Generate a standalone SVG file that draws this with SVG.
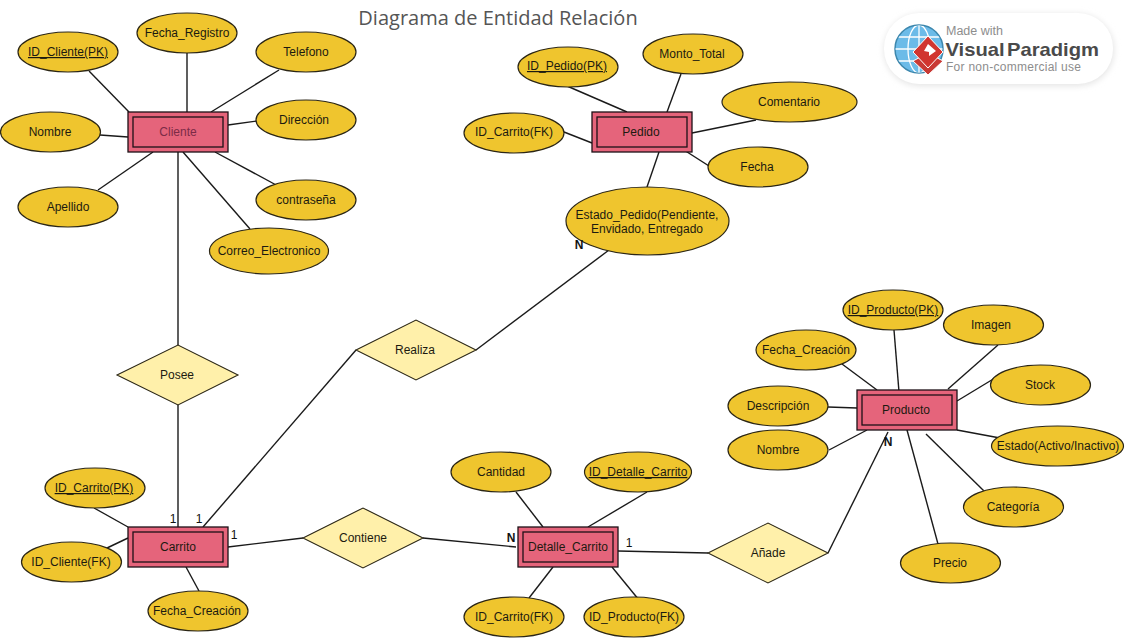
<svg xmlns="http://www.w3.org/2000/svg" width="1125" height="638" viewBox="0 0 1125 638">
<style>
text{font-family:"Liberation Sans",Arial,sans-serif;font-size:12px;fill:#1c1a10;text-anchor:middle}
.a{fill:#efc52e;stroke:#2b2616;stroke-width:1.2}
.e{fill:#e5647b;stroke:#1d1016;stroke-width:1.3}
.i{fill:none;stroke:#1d1016;stroke-width:1.3}
.r{fill:#fff0aa;stroke:#2b2616;stroke-width:1.1}
.c line,.c polyline{fill:none;stroke:#1a1a1a;stroke-width:1.4}
.k{font-weight:bold;font-size:12px;fill:#111}
.card{font-size:12px;fill:#111}
.u{text-decoration:underline}
</style>
<defs><filter id="soft" x="-10%" y="-25%" width="120%" height="150%"><feGaussianBlur stdDeviation="3"/></filter>
<clipPath id="gl"><circle cx="919" cy="49" r="23.5"/></clipPath></defs>
<rect width="1125" height="638" fill="#fff"/>
<text id="title" x="498" y="25" style="font-family:'Open Sans','Noto Sans',sans-serif;font-size:20px;fill:#555">Diagrama de Entidad Relación</text>
<g id="watermark">
<rect x="884" y="14" width="230" height="72" rx="36" fill="#e4e4e4" filter="url(#soft)"/>
<rect x="884" y="13" width="229" height="71" rx="35" fill="#fff"/>
<circle cx="919" cy="49" r="24" fill="#6cbbe8" stroke="#3d87ad" stroke-width="1.5"/>
<g clip-path="url(#gl)" fill="none" stroke="#fff" stroke-width="1.3"><ellipse cx="919" cy="49" rx="11" ry="24"/><line x1="919" y1="25" x2="919" y2="73"/><line x1="895" y1="49" x2="943" y2="49"/><line x1="897" y1="37" x2="941" y2="37"/><line x1="897" y1="61" x2="941" y2="61"/></g>
<polygon points="928,53 943,61 928,75 913,61" fill="#c93a35" stroke="#fff" stroke-width="1"/>
<polygon points="928,36 943,52 928,68 913,52" fill="#d1352f" stroke="#fff" stroke-width="1"/>
<polygon points="928,44 936,51 929,56 929,52 924,51" fill="#fff"/>
<text x="946" y="35" style="text-anchor:start;font-size:12.5px;fill:#8d8d8d" textLength="57">Made with</text>
<text x="945.500" y="55.500" style="text-anchor:start;font-size:19px;font-weight:bold;fill:#4a4a4a;word-spacing:-3px" textLength="153.500" lengthAdjust="spacingAndGlyphs">Visual Paradigm</text>
<text x="946" y="70.500" style="text-anchor:start;font-size:12px;fill:#8d8d8d" textLength="135">For non-commercial use</text>
</g>
<g id="connectors" class="c">
<line x1="89" y1="71" x2="129" y2="112"/><line x1="187" y1="53" x2="187" y2="112"/><line x1="279" y1="70" x2="211" y2="112"/><line x1="257" y1="121" x2="228" y2="125"/><line x1="100" y1="135" x2="128" y2="137"/><line x1="98" y1="190" x2="153" y2="152"/><line x1="278" y1="186" x2="215" y2="152"/><line x1="250" y1="229" x2="183" y2="152"/>
<line x1="178" y1="152" x2="178" y2="345"/><line x1="178" y1="405" x2="178" y2="527"/>
<line x1="203" y1="527" x2="356" y2="350"/><line x1="476" y1="350" x2="609" y2="250"/>
<line x1="228" y1="547" x2="303" y2="538"/><line x1="423" y1="538" x2="516" y2="547"/>
<line x1="618" y1="551" x2="708" y2="553"/><polyline points="828,553 888,432"/>
<line x1="94" y1="508" x2="128" y2="527"/><line x1="107" y1="548" x2="128" y2="538"/><line x1="186" y1="567" x2="199" y2="591"/>
<line x1="516" y1="492" x2="543" y2="527"/><line x1="647" y1="492" x2="588" y2="527"/><line x1="529" y1="598" x2="553" y2="567"/><line x1="639" y1="600" x2="612" y2="567"/>
<line x1="567" y1="86" x2="627" y2="112"/><line x1="681" y1="74" x2="667" y2="112"/><line x1="756" y1="120" x2="692" y2="133"/><line x1="709" y1="166" x2="684" y2="150"/><line x1="564" y1="132" x2="592" y2="143"/><line x1="659" y1="152" x2="647" y2="187"/>
<line x1="894" y1="330" x2="899" y2="392"/><line x1="998" y1="345" x2="948" y2="389"/><line x1="842" y1="364" x2="877" y2="390"/><line x1="995" y1="378" x2="957" y2="401"/><line x1="828" y1="407" x2="857" y2="408"/><line x1="829" y1="450" x2="867" y2="430"/><line x1="957" y1="430" x2="1000" y2="438"/><line x1="984" y1="491" x2="926" y2="434"/><line x1="938" y1="544" x2="907" y2="430"/>
</g>
<g id="Cliente"><rect class="e" x="128" y="112" width="100" height="40"/><rect class="i" x="133" y="117" width="90" height="30"/><text x="178" y="136" style="fill:#7c2b47">Cliente</text></g>
<g id="Carrito"><rect class="e" x="128" y="527" width="100" height="40"/><rect class="i" x="133" y="532" width="90" height="30"/><text x="178" y="551">Carrito</text></g>
<g id="Detalle_Carrito"><rect class="e" x="518" y="527" width="100" height="40"/><rect class="i" x="523" y="532" width="90" height="30"/><text x="568" y="551">Detalle_Carrito</text></g>
<g id="Pedido"><rect class="e" x="592" y="112" width="100" height="40"/><rect class="i" x="597" y="117" width="90" height="30"/><text x="641" y="136">Pedido</text></g>
<g id="Producto"><rect class="e" x="857" y="390" width="100" height="40"/><rect class="i" x="862" y="395" width="90" height="30"/><text x="906" y="414">Producto</text></g>
<g id="Posee"><polygon class="r" points="117,375 178,345 238,375 178,405"/><text x="177" y="379">Posee</text></g>
<g id="Realiza"><polygon class="r" points="356,350 416,320 476,350 416,380"/><text x="415" y="354">Realiza</text></g>
<g id="Contiene"><polygon class="r" points="303,538 363,508 423,538 363,568"/><text x="363" y="542">Contiene</text></g>
<g id="Anade"><polygon class="r" points="708,553 768,523 828,553 768,583"/><text x="768" y="557">Añade</text></g>
<g id="attr-id-cliente"><ellipse class="a" cx="68" cy="52" rx="50" ry="20"/><text class="u" x="68" y="56">ID_Cliente(PK)</text></g>
<g id="attr-fecha-registro"><ellipse class="a" cx="187" cy="33" rx="50" ry="20"/><text x="187" y="37">Fecha_Registro</text></g>
<g id="attr-telefono"><ellipse class="a" cx="306" cy="52" rx="50" ry="20"/><text x="306" y="56">Telefono</text></g>
<g id="attr-direccion"><ellipse class="a" cx="306" cy="120" rx="50" ry="20"/><text x="304" y="124">Dirección</text></g>
<g id="attr-nombre"><ellipse class="a" cx="50.500" cy="132" rx="50" ry="20"/><text x="50" y="136">Nombre</text></g>
<g id="attr-apellido"><ellipse class="a" cx="68" cy="207" rx="50" ry="20"/><text x="68" y="211">Apellido</text></g>
<g id="attr-contrasena"><ellipse class="a" cx="306" cy="200" rx="50" ry="20"/><text x="306" y="204">contraseña</text></g>
<g id="attr-correo"><ellipse class="a" cx="269" cy="251" rx="59.500" ry="23"/><text x="269" y="255">Correo_Electronico</text></g>
<g id="attr-id-carrito-pk"><ellipse class="a" cx="95" cy="488" rx="50" ry="20"/><text class="u" x="94" y="492">ID_Carrito(PK)</text></g>
<g id="attr-id-cliente-fk"><ellipse class="a" cx="71.500" cy="562" rx="50" ry="20"/><text x="71" y="566">ID_Cliente(FK)</text></g>
<g id="attr-fecha-creacion"><ellipse class="a" cx="198" cy="611" rx="50" ry="20"/><text x="197" y="615">Fecha_Creación</text></g>
<g id="attr-cantidad"><ellipse class="a" cx="501" cy="472" rx="50" ry="20"/><text x="501" y="476">Cantidad</text></g>
<g id="attr-id-detalle"><ellipse class="a" cx="638" cy="472" rx="53.500" ry="20"/><text class="u" x="638" y="476">ID_Detalle_Carrito</text></g>
<g id="attr-id-carrito-fk2"><ellipse class="a" cx="514" cy="617" rx="50" ry="20"/><text x="514" y="621">ID_Carrito(FK)</text></g>
<g id="attr-id-producto-fk"><ellipse class="a" cx="634" cy="617" rx="50" ry="20"/><text x="634" y="621">ID_Producto(FK)</text></g>
<g id="attr-id-pedido"><ellipse class="a" cx="568" cy="67" rx="50" ry="20"/><text class="u" x="567" y="70">ID_Pedido(PK)</text></g>
<g id="attr-monto"><ellipse class="a" cx="693" cy="54" rx="50" ry="20"/><text x="692" y="58">Monto_Total</text></g>
<g id="attr-comentario"><ellipse class="a" cx="789.500" cy="102" rx="67.500" ry="20"/><text x="789" y="106">Comentario</text></g>
<g id="attr-fecha"><ellipse class="a" cx="758" cy="167" rx="50" ry="20"/><text x="757" y="171">Fecha</text></g>
<g id="attr-id-carrito-fk"><ellipse class="a" cx="514" cy="133" rx="50" ry="20"/><text x="514" y="136">ID_Carrito(FK)</text></g>
<g id="attr-estado-pedido"><ellipse class="a" cx="647.500" cy="221" rx="81.500" ry="34"/><text x="647" y="219">Estado_Pedido(Pendiente,</text><text x="647" y="233">Envidado, Entregado</text></g>
<g id="attr-id-producto"><ellipse class="a" cx="893" cy="310" rx="50" ry="20"/><text class="u" x="893" y="314">ID_Producto(PK)</text></g>
<g id="attr-imagen"><ellipse class="a" cx="993.500" cy="325" rx="50" ry="20"/><text x="991" y="329">Imagen</text></g>
<g id="attr-fecha-creacion-p"><ellipse class="a" cx="806" cy="350" rx="50" ry="20"/><text x="806" y="354">Fecha_Creación</text></g>
<g id="attr-stock"><ellipse class="a" cx="1040.500" cy="385" rx="50" ry="20"/><text x="1040" y="389">Stock</text></g>
<g id="attr-descripcion"><ellipse class="a" cx="778" cy="406" rx="50" ry="20"/><text x="778" y="410">Descripción</text></g>
<g id="attr-nombre-p"><ellipse class="a" cx="778" cy="450" rx="50" ry="20"/><text x="778" y="454">Nombre</text></g>
<g id="attr-estado"><ellipse class="a" cx="1057.500" cy="446" rx="66" ry="20"/><text x="1058" y="450">Estado(Activo/Inactivo)</text></g>
<g id="attr-categoria"><ellipse class="a" cx="1013.500" cy="507" rx="50" ry="20"/><text x="1013" y="511">Categoría</text></g>
<g id="attr-precio"><ellipse class="a" cx="950.500" cy="563" rx="50" ry="20"/><text x="950" y="567">Precio</text></g>
<g id="cardinalities">
<text class="k" x="579" y="249">N</text><text class="k" x="511" y="542">N</text><text class="k" x="888" y="446">N</text>
<text class="card" x="173" y="523">1</text><text class="card" x="199" y="523">1</text><text class="card" x="234" y="539">1</text><text class="card" x="629" y="547">1</text>
</g>
</svg>
